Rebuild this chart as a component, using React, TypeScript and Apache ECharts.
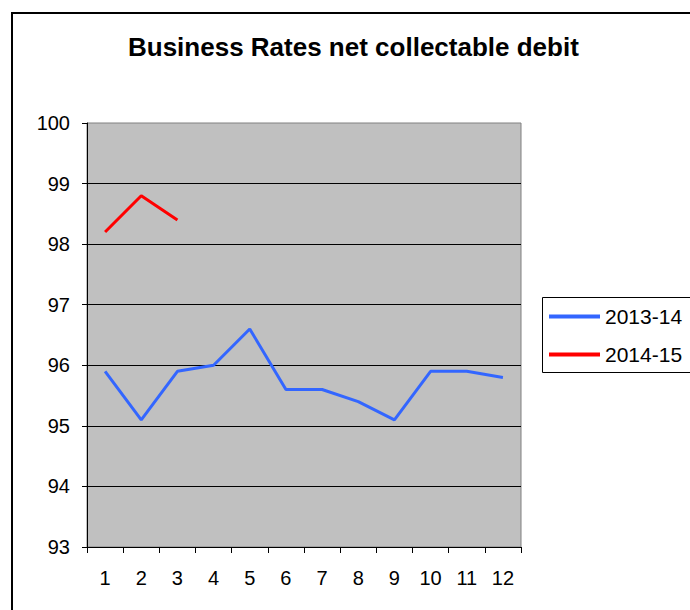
import React, { useEffect, useRef } from "react";
import * as echarts from "echarts";

const months = ["1", "2", "3", "4", "5", "6", "7", "8", "9", "10", "11", "12"];
const series2013 = [95.9, 95.1, 95.9, 96.0, 96.6, 95.6, 95.6, 95.4, 95.1, 95.9, 95.9, 95.8];
const series2014 = [98.2, 98.8, 98.4, null, null, null, null, null, null, null, null, null];
const seriesNames = ["2013-14", "2014-15"];
const titleText = "Business Rates net collectable debit";

const FONT = "'Liberation Sans', Arial, sans-serif";

export default function App() {
  const ref = useRef<HTMLDivElement>(null);
  useEffect(() => {
    if (!ref.current) return;
    const chart = echarts.init(ref.current, null, { renderer: "svg" });
    chart.setOption({
      animation: false,
      backgroundColor: "#ffffff",
      title: {
        text: titleText,
        left: 128,
        top: 34,
        padding: 0,
        textStyle: { fontFamily: FONT, fontSize: 26, fontWeight: "bold", color: "#000" },
      },
      graphic: [
        {
          type: "rect",
          shape: { x: 12, y: 13, width: 720, height: 700 },
          style: { fill: "none", stroke: "#000", lineWidth: 2 },
          z: 0,
        },
        {
          type: "rect",
          shape: { x: 542.5, y: 297.5, width: 160, height: 75 },
          style: { fill: "#fff", stroke: "#000", lineWidth: 1 },
          z: 1,
        },
      ],
      legend: {
        data: seriesNames,
        orient: "vertical",
        left: 549,
        top: 306,
        itemWidth: 51,
        itemHeight: 4,
        itemGap: 17,
        icon: "rect",
        padding: 0,
        z: 5,
        textStyle: { fontFamily: FONT, fontSize: 21, color: "#000" },
      },
      grid: {
        left: 87,
        right: 169,
        top: 123,
        bottom: 63,
        show: true,
        backgroundColor: "#C0C0C0",
        borderColor: "#808080",
        borderWidth: 1,
      },
      xAxis: {
        type: "category",
        data: months,
        boundaryGap: true,
        axisLine: { show: true, lineStyle: { color: "#000", width: 1 } },
        axisTick: { show: true, interval: 0, length: 6, lineStyle: { color: "#000" } },
        axisLabel: { interval: 0, margin: 21, fontFamily: FONT, fontSize: 20, color: "#000" },
      },
      yAxis: {
        type: "value",
        min: 93,
        max: 100,
        interval: 1,
        axisLine: { show: true, lineStyle: { color: "#000", width: 1 } },
        axisTick: { show: true, length: 5, lineStyle: { color: "#000" } },
        axisLabel: { margin: 17, fontFamily: FONT, fontSize: 20, color: "#000" },
        splitLine: { show: true, showMinLine: false, showMaxLine: false, lineStyle: { color: "#000", width: 1 } },
      },
      series: [
        {
          name: seriesNames[0],
          type: "line",
          data: series2013,
          showSymbol: false,
          symbol: "none",
          color: "#3366FF",
          lineStyle: { color: "#3366FF", width: 3 },
        },
        {
          name: seriesNames[1],
          type: "line",
          data: series2014,
          showSymbol: false,
          symbol: "none",
          color: "#FF0000",
          lineStyle: { color: "#FF0000", width: 3 },
        },
      ],
    });
    return () => chart.dispose();
  }, []);
  return (
    <div
      ref={ref}
      style={{ position: "fixed", left: 0, top: 0, width: 690, height: 610 }}
    />
  );
}
